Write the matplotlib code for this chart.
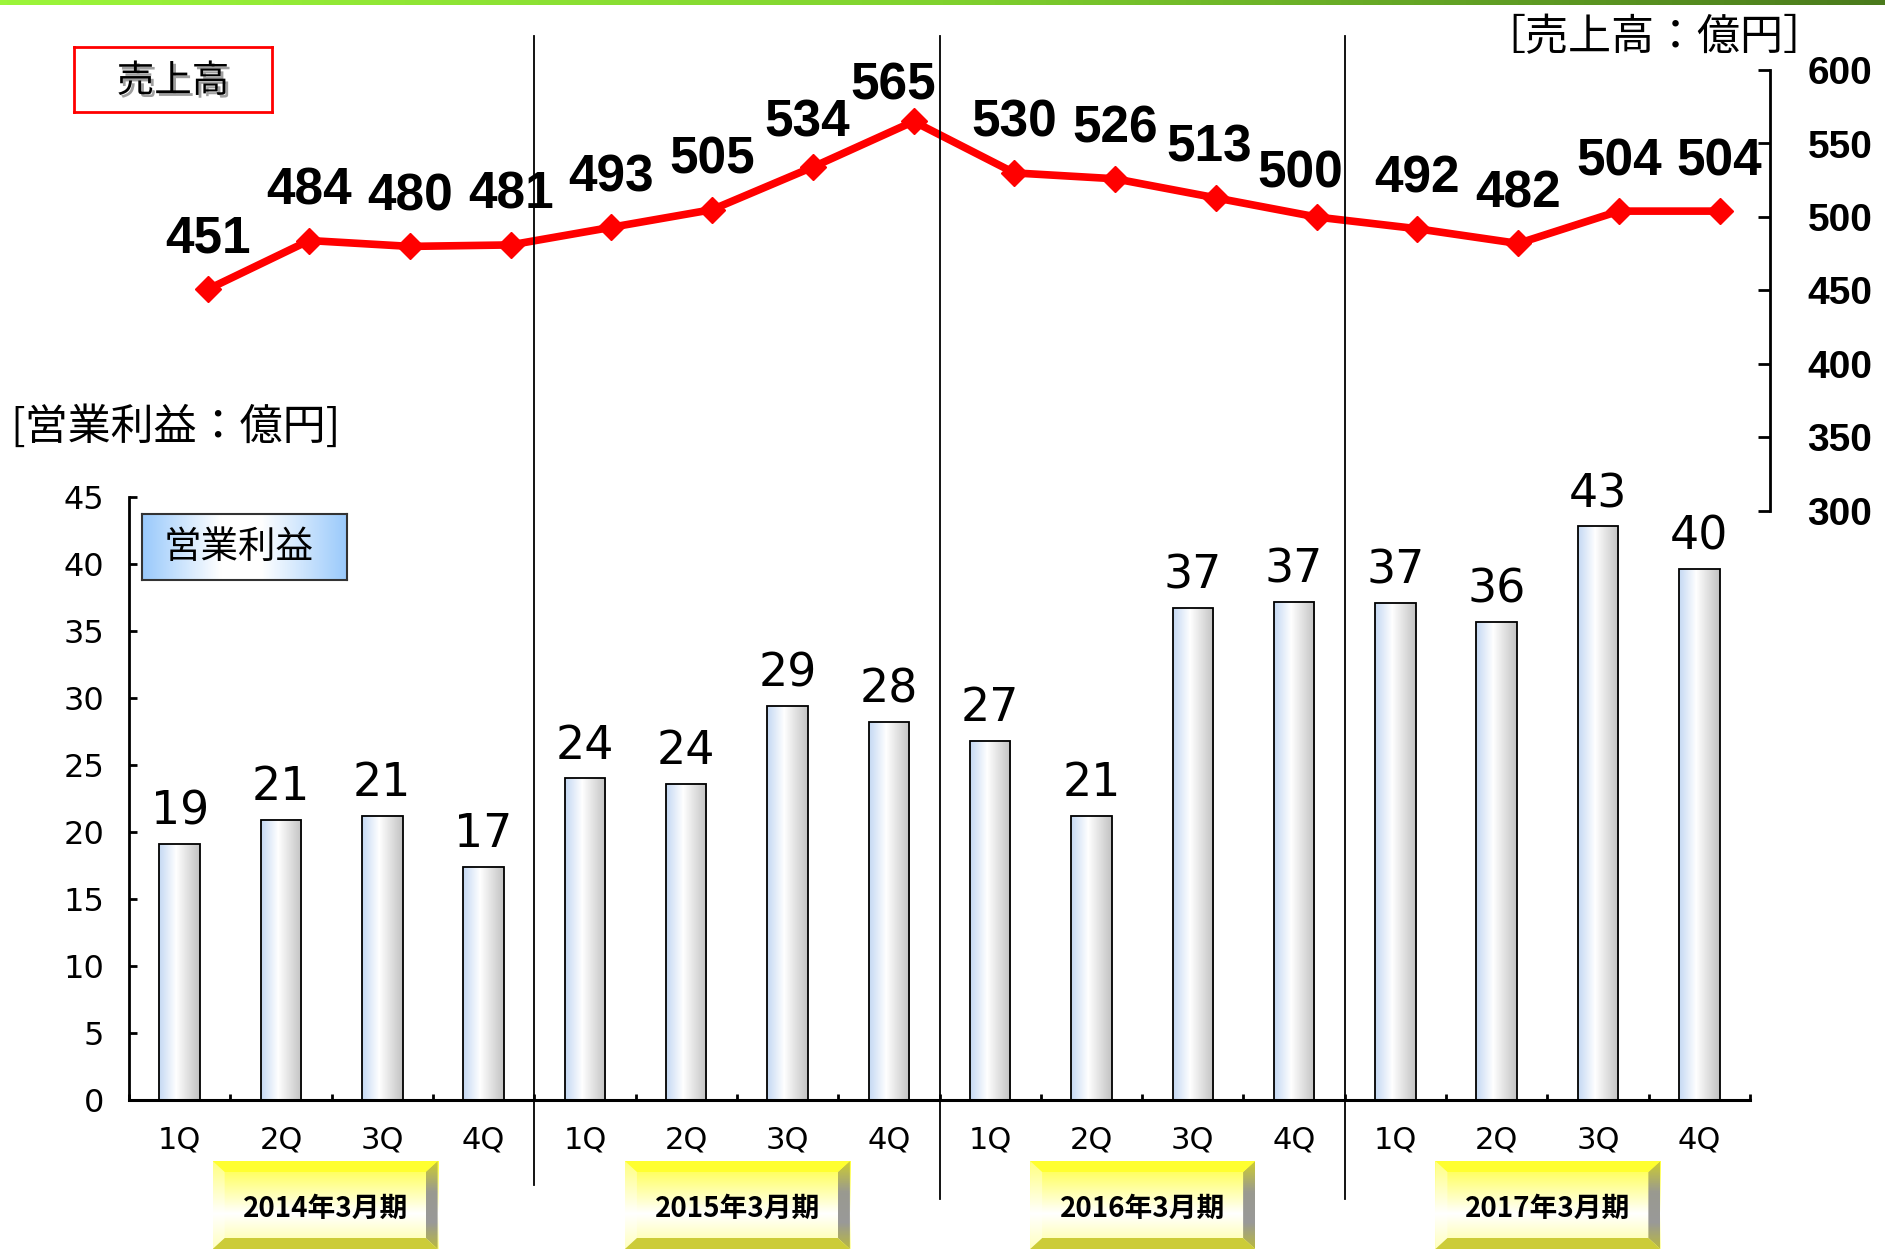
import numpy as np
import matplotlib
matplotlib.use('Agg')
import matplotlib.pyplot as plt
import matplotlib.patheffects as pe
from matplotlib.colors import LinearSegmentedColormap
from matplotlib.patches import Polygon
from matplotlib.lines import Line2D
from matplotlib.transforms import blended_transform_factory

quarters = ['1Q', '2Q', '3Q', '4Q'] * 4
years = ['2014年3月期', '2015年3月期', '2016年3月期', '2017年3月期']
sales = [451, 484, 480, 481, 493, 505, 534, 565, 530, 526, 513, 500, 492, 482, 504, 504]
profit = [19.1, 20.9, 21.2, 17.4, 24.0, 23.6, 29.4, 28.2, 26.8, 21.2, 36.7, 37.2, 37.1, 35.7, 42.8, 39.6]

JP = ['Noto Sans CJK JP', 'DejaVu Sans']
W, H = 1885, 1249


def box(l, t, r, b):
    # pixel box (from top-left) -> figure rect
    return [l / W, 1 - b / H, (r - l) / W, (b - t) / H]


fig = plt.figure(figsize=(W / 100, H / 100), dpi=100)
x = np.arange(len(profit))

# green strip along the top
strip = fig.add_axes(box(0, 0, W, 5))
strip.imshow(np.linspace(0, 1, 256)[None, :], aspect='auto',
             cmap=LinearSegmentedColormap.from_list('g', ['#9cf53a', '#80d22e', '#4a7a1c']))
strip.axis('off')

# operating profit bars
ax = fig.add_axes(box(129, 497, 1750, 1100))
barcm = LinearSegmentedColormap.from_list('b', [(0, '#c4d8f3'), (0.42, '#ffffff'), (1, '#c2c2c2')])
bars = ax.bar(x, profit, width=0.4, facecolor='none', edgecolor='black', lw=1.3, zorder=3)
for b in bars:
    ax.imshow(np.linspace(0, 1, 128)[None, :], cmap=barcm, aspect='auto', zorder=2,
              extent=[b.get_x(), b.get_x() + b.get_width(), 0, b.get_height()])
for xi, v in zip(x, profit):
    ax.annotate(f'{v:.0f}', (xi, v), xytext=(0, 14), textcoords='offset points',
                ha='center', va='baseline', fontsize=33)
ax.set_xlim(-0.5, 15.5)
ax.set_ylim(0, 45)
ax.set_yticks(range(0, 46, 5))
ax.tick_params(axis='y', direction='in', length=6, width=2, labelsize=23, pad=18)
ax.set_xticks(x, quarters)
ax.set_xticks(np.arange(-0.5, 16, 1), minor=True)
ax.tick_params(axis='x', which='major', length=0, labelsize=22, pad=18)
ax.tick_params(axis='x', which='minor', direction='in', length=4.5, width=2)
for s in ['top', 'right']:
    ax.spines[s].set_visible(False)
ax.spines['left'].set_linewidth(2)
ax.spines['bottom'].set_linewidth(2.2)

# sales line
ax2 = fig.add_axes(box(158, 70, 1770, 511))
ax2.patch.set_alpha(0)
ax2.plot(x, sales, color='red', lw=5.5, marker='D', ms=13, mec='red', zorder=3, clip_on=False)
nudge = {6: (-4, -4), 7: (-15, -10), 10: (-5, 0), 11: (-12, -5)}
for i, v in enumerate(sales):
    dx, dy = nudge.get(i, (0, 0))
    ax2.annotate(str(v), (i, v), xytext=(dx, 26 + dy), textcoords='offset points',
                 ha='center', va='baseline', fontsize=37, fontweight='bold',
                 family='Liberation Sans', zorder=4, annotation_clip=False)
ax2.set_xlim(-0.5, 15.5)
ax2.set_ylim(300, 600)
ax2.set_xticks([])
ax2.yaxis.tick_right()
ax2.set_yticks(range(300, 601, 50))
ax2.tick_params(axis='y', direction='in', length=9, width=2, labelsize=28, pad=27)
for lab in ax2.get_yticklabels():
    lab.set_fontweight('bold')
    lab.set_family('Liberation Sans')
for s in ['top', 'left', 'bottom']:
    ax2.spines[s].set_visible(False)
ax2.spines['right'].set_linewidth(2)

# fiscal year separators
trans = blended_transform_factory(ax.transData, fig.transFigure)
for xs, yb in zip([3.5, 7.5, 11.5], [1185, 1199, 1199]):
    fig.add_artist(Line2D([xs, xs], [1 - 36 / H, 1 - yb / H], transform=trans,
                          color='black', lw=1.3))

# fiscal year bevel boxes
facecm = LinearSegmentedColormap.from_list('y', [(0, '#ffff3c'), (0.6, '#ffffff'), (1, '#ffffa0')])
rightcm = LinearSegmentedColormap.from_list('r', [(0, '#cccc30'), (0.35, '#9a9a90'),
                                                   (0.7, '#999999'), (1, '#b8b840')])
ex, ey = 12 / 225, 11 / 88
for k, label in enumerate(years):
    px = ax.transData.transform([(4 * k + 1.5, 0)])[0][0]
    if k == 0:
        px -= 7
    bx = fig.add_axes(box(px - 112, 1161, px + 113, 1249))
    bx.imshow(np.linspace(0, 1, 128)[:, None], cmap=facecm, aspect='auto', extent=[0, 1, 0, 1])
    bx.add_patch(Polygon([(0, 1), (1, 1), (1 - ex, 1 - ey), (ex, 1 - ey)], color='#ffff30', lw=0))
    bx.add_patch(Polygon([(0, 0), (1, 0), (1 - ex, ey), (ex, ey)], color='#cccc38', lw=0))
    bx.add_patch(Polygon([(0, 0), (0, 1), (ex, 1 - ey), (ex, ey)], color='white', alpha=0.35, lw=0))
    rp = Polygon([(1, 0), (1, 1), (1 - ex, 1 - ey), (1 - ex, ey)], facecolor='none', lw=0)
    bx.add_patch(rp)
    im = bx.imshow(np.linspace(0, 1, 64)[:, None], cmap=rightcm, aspect='auto',
                   extent=[1 - ex, 1, 0, 1])
    im.set_clip_path(rp)
    bx.text(0.5, 0.46, label, ha='center', va='center', fontsize=20, fontweight='bold', family=JP)
    bx.set_xlim(0, 1)
    bx.set_ylim(0, 1)
    bx.axis('off')

# legend-like label boxes
bluecm = LinearSegmentedColormap.from_list('bl', [(0, '#99c9fb'), (0.38, '#ffffff'),
                                                  (0.58, '#ffffff'), (1, '#99c9fb')])
lb = fig.add_axes(box(142, 514, 347, 580))
lb.imshow(np.linspace(0, 1, 128)[None, :], cmap=bluecm, aspect='auto', extent=[0, 1, 0, 1])
lb.text(0.47, 0.5, '営業利益', ha='center', va='center', fontsize=27, family=JP)
lb.set_xticks([])
lb.set_yticks([])
for s in lb.spines.values():
    s.set_color('#333333')
    s.set_linewidth(1.5)

sb = fig.add_axes(box(74, 47, 272, 112))
sb.text(0.5, 0.47, '売上高', ha='center', va='center', fontsize=27, family=JP,
        path_effects=[pe.SimplePatchShadow(offset=(2, -2), shadow_rgbFace='#777777', alpha=0.7),
                      pe.Normal()])
sb.set_xticks([])
sb.set_yticks([])
for s in sb.spines.values():
    s.set_color('red')
    s.set_linewidth(2)

# unit labels
fig.text(10 / W, 1 - 428 / H, '[営業利益：億円]', ha='left', va='center', fontsize=31, family=JP)
fig.text(1826 / W, 1 - 38 / H, '［売上高：億円］', ha='right', va='center', fontsize=31, family=JP)

fig.savefig('out.png', dpi=100)
